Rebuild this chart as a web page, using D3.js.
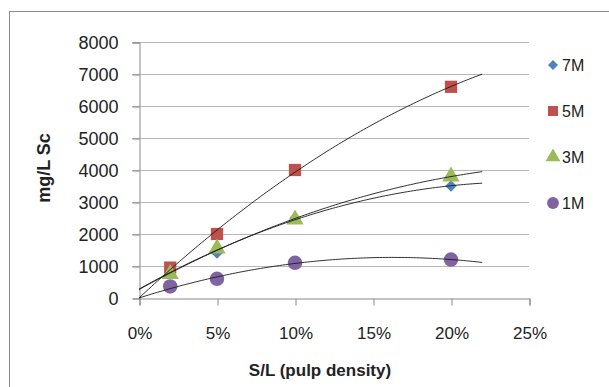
<!DOCTYPE html>
<html><head><meta charset="utf-8">
<script src="https://cdn.jsdelivr.net/npm/d3@7"></script>
<style>body{margin:0;background:#fff}svg{display:block}</style>
</head><body>
<script>
const xValues = [0.02, 0.05, 0.10, 0.20];
const seriesNames = ["7M", "5M", "3M", "1M"];
const values7M = [850, 1400, 2500, 3500];
const values5M = [950, 2000, 4000, 6600];
const values3M = [750, 1550, 2450, 3800];
const values1M = [360, 600, 1100, 1200];
const yTicks = [0, 1000, 2000, 3000, 4000, 5000, 6000, 7000, 8000];
const xTicks = [0, 0.05, 0.10, 0.15, 0.20, 0.25];
const zeroIntercept = [false, true, false, true];
const colors = ["#4F81BD", "#C0504D", "#9BBB59", "#8064A2"];
const shapes = [d3.symbolSquare, d3.symbolSquare, d3.symbolTriangle, d3.symbolCircle];
const rotations = [45, 0, 0, 0];
const sizes = [64, 150, 130, 165];
const allSeries = [values7M, values5M, values3M, values1M];

const W = 609, H = 387;
const svg = d3.select("body").append("svg").attr("width", W).attr("height", H);
svg.append("rect").attr("x", 9.5).attr("y", 11.5).attr("width", 620).attr("height", 400)
  .attr("fill", "#fff").attr("stroke", "#8a8a8a").attr("stroke-width", 1);

const x = d3.scaleLinear().domain([0, 0.25]).range([139, 529]);
const y = d3.scaleLinear().domain([0, 8000]).range([298, 42]);
const font = "'Liberation Sans', Arial, sans-serif";

// gridlines
svg.append("g").selectAll("line").data(yTicks.slice(1)).join("line")
  .attr("x1", 132).attr("x2", 529)
  .attr("y1", d => Math.round(y(d)) + 0.5).attr("y2", d => Math.round(y(d)) + 0.5)
  .attr("stroke", "#b8b8b8").attr("stroke-width", 1);

// y axis
const yAxis = svg.append("g").attr("transform", "translate(139.5,0.5)")
  .call(d3.axisLeft(y).tickValues(yTicks).tickSize(7).tickPadding(14).tickFormat(d3.format("d")));
// x axis
const xAxis = svg.append("g").attr("transform", "translate(0.5,298.5)")
  .call(d3.axisBottom(x).tickValues(xTicks).tickSize(7).tickPadding(21).tickFormat(d3.format(".0%")));
[yAxis, xAxis].forEach(g => {
  g.select(".domain").attr("stroke", "#8a8a8a");
  g.selectAll(".tick line").attr("stroke", "#8a8a8a");
  g.selectAll("text").attr("font-family", font).attr("fill", "#222");
});
yAxis.selectAll("text").attr("font-size", 18).attr("dy", "0.35em");
xAxis.selectAll("text").attr("font-size", 17);

// markers
allSeries.forEach((vals, i) => {
  svg.append("g").selectAll("path").data(vals).join("path")
    .attr("d", d3.symbol().type(shapes[i]).size(sizes[i]))
    .attr("transform", (d, j) => `translate(${x(xValues[j])},${y(d)}) rotate(${rotations[i]})`)
    .attr("fill", colors[i]);
});

// polynomial (order 2) trendlines
function quadFit(xs, ys, zero) {
  const n = xs.length;
  let s = [0,0,0,0,0], t = [0,0,0];
  for (let k = 0; k < n; k++) {
    const xv = xs[k];
    for (let p = 0; p <= 4; p++) s[p] += Math.pow(xv, p);
    for (let p = 0; p <= 2; p++) t[p] += ys[k] * Math.pow(xv, p);
  }
  if (zero) {
    const det = s[2]*s[4] - s[3]*s[3];
    return [0, (t[1]*s[4] - s[3]*t[2]) / det, (s[2]*t[2] - s[3]*t[1]) / det];
  }
  const A = [[s[0],s[1],s[2],t[0]],[s[1],s[2],s[3],t[1]],[s[2],s[3],s[4],t[2]]];
  for (let i = 0; i < 3; i++) {
    for (let r = i + 1; r < 3; r++) {
      const f = A[r][i] / A[i][i];
      for (let c = i; c < 4; c++) A[r][c] -= f * A[i][c];
    }
  }
  const sol = [0,0,0];
  for (let i = 2; i >= 0; i--) {
    let v = A[i][3];
    for (let c = i + 1; c < 3; c++) v -= A[i][c] * sol[c];
    sol[i] = v / A[i][i];
  }
  return sol;
}
const line = d3.line().x(d => x(d[0])).y(d => y(d[1]));
allSeries.forEach((vals, i) => {
  const c = quadFit(xValues, vals, zeroIntercept[i]);
  const pts = d3.range(0, 0.2201, 0.002).map(t => [t, c[0] + c[1]*t + c[2]*t*t]);
  svg.append("path").attr("d", line(pts)).attr("fill", "none")
    .attr("stroke", "#1a1a1a").attr("stroke-width", 0.9);
});

// legend
const legendY = [65, 111, 157, 203];
const legendSizes = [50, 100, 95, 110];
seriesNames.forEach((name, i) => {
  svg.append("path").attr("d", d3.symbol().type(shapes[i]).size(legendSizes[i]))
    .attr("transform", `translate(553,${legendY[i]}) rotate(${rotations[i]})`).attr("fill", colors[i]);
  svg.append("text").attr("x", 562).attr("y", legendY[i]).attr("dy", "0.36em")
    .attr("font-family", font).attr("font-size", 16).attr("fill", "#222").text(name);
});

// titles
svg.append("text").attr("transform", "translate(50,168) rotate(-90)")
  .attr("text-anchor", "middle").attr("font-family", font).attr("font-size", 18)
  .attr("font-weight", "bold").attr("fill", "#222").text("mg/L Sc");
svg.append("text").attr("x", 320).attr("y", 370).attr("dy", "0.35em")
  .attr("text-anchor", "middle").attr("font-family", font).attr("font-size", 17)
  .attr("font-weight", "bold").attr("fill", "#222").text("S/L (pulp density)");
</script>
</body></html>
